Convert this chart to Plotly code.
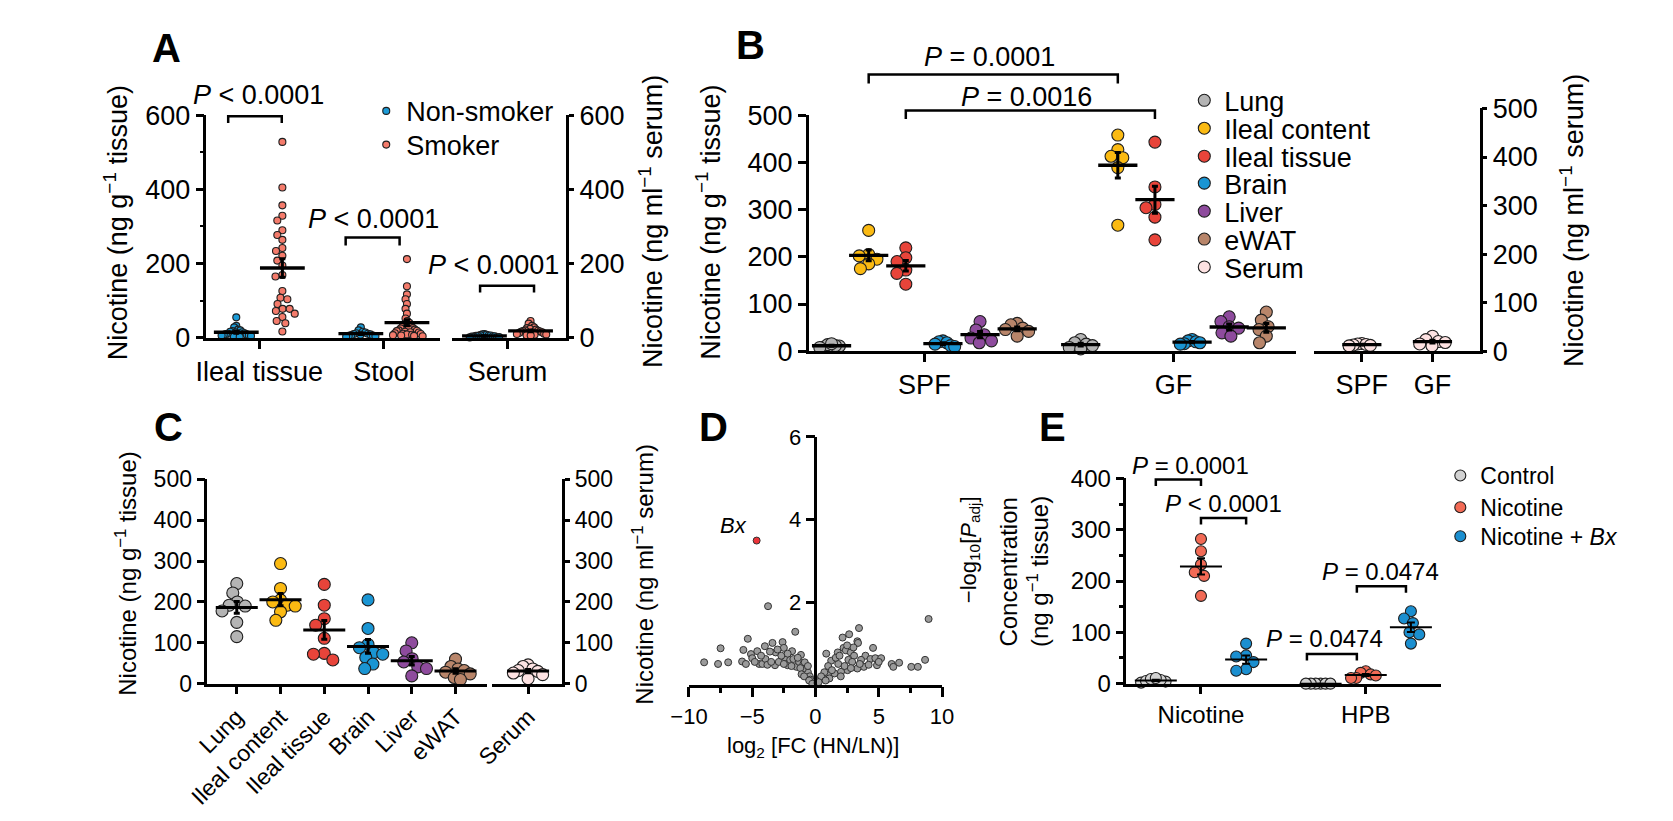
import numpy as np
import plotly.graph_objects as go

W, H = 1673, 821
FONT = "Liberation Sans, Arial, Helvetica, sans-serif"

# ===================== DATA =====================
# Panel A  (human samples, nicotine)
a_tissue_cats = ["Ileal tissue", "Stool"]
a_serum_cats = ["Serum"]
a_groups = ["Non-smoker", "Smoker"]
a_ileal_non = [55, 32, 28, 22, 20, 18, 16, 15, 14, 12, 11, 10, 9, 8, 7, 6, 5, 4, 3, 2]
a_ileal_smk = [528, 405, 357, 329, 316, 290, 277, 264, 242, 234, 221, 208, 195, 169, 165,
               126, 108, 104, 91, 78, 78, 72, 65, 56, 45, 39, 17]
a_stool_non = [28, 20, 16, 14, 12, 11, 10, 9, 8, 7, 6, 5, 4, 3]
a_stool_smk = [212, 139, 117, 104, 91, 78, 65, 52, 45, 40, 36, 33, 30, 28, 26, 25, 23, 22,
               20, 19, 18, 16, 15, 14, 12, 11, 10, 9, 8, 7, 6, 5, 4]
a_serum_non = [10, 9, 8, 7, 6, 6, 5, 5, 4, 4, 3, 3, 2, 2, 1]
a_serum_smk = [45, 38, 32, 28, 26, 24, 22, 20, 19, 18, 17, 16, 15, 14, 13, 12, 11, 10, 9, 8, 7, 6]
a_pvals = ["<i>P</i> &lt; 0.0001", "<i>P</i> &lt; 0.0001", "<i>P</i> &lt; 0.0001"]

# Panel B  (SPF vs GF mice)
b_tissues = ["Lung", "Ileal content", "Ileal tissue", "Brain", "Liver", "eWAT"]
b_conditions = ["SPF", "GF"]
b_lung_spf = [9, 11, 12, 14, 16, 8]
b_lung_gf = [25, 18, 15, 12, 8, 5]
b_icontent_spf = [256, 205, 202, 195, 185, 175]
b_icontent_gf = [458, 427, 413, 410, 389, 267]
b_itissue_spf = [219, 198, 190, 172, 165, 142]
b_itissue_gf = [443, 348, 311, 304, 284, 236]
b_brain_spf = [22, 20, 18, 15, 12, 10]
b_brain_gf = [25, 22, 20, 18, 16, 15]
b_liver_spf = [63, 45, 35, 28, 22, 18]
b_liver_gf = [73, 63, 52, 49, 39, 32]
b_ewat_spf = [59, 56, 49, 46, 42, 32]
b_ewat_gf = [83, 66, 52, 46, 32, 18]
b_serum_spf = [16, 15, 14, 13, 12, 11]
b_serum_gf = [31, 24, 20, 18, 15, 11]
b_pvals = ["<i>P</i> = 0.0001", "<i>P</i> = 0.0016"]

# Panel C
c_tissues = ["Lung", "Ileal content", "Ileal tissue", "Brain", "Liver", "eWAT"]
c_lung = [245, 222, 200, 192, 190, 178, 150, 115]
c_icontent = [294, 233, 205, 200, 192, 190, 176, 155]
c_itissue = [243, 192, 159, 143, 111, 74, 72, 58]
c_brain = [205, 135, 96, 88, 76, 72, 64, 48, 37]
c_liver = [100, 80, 61, 53, 41, 37, 19]
c_ewat = [60, 42, 36, 32, 28, 24, 15, 10]
c_serum = [46, 42, 36, 32, 30, 26, 22, 12]

# Panel D  (volcano)
d_log2fc = [-8.8, -7.7, -7.5, -6.9, -5.8, -5.7, -5.5, -5.35, -5.1, -5.0, -4.6, -4.45, -4.2, -4.0,
            -3.95, -3.8, -3.75, -3.4, -3.15, -3.2, -2.9, -2.6, -2.5, -2.4, -2.2, -2.0, -1.85,
            -1.75, -1.6, -1.5, -1.3, -1.15, -0.95, -0.85, -0.8, -0.7, -0.6, -0.55, -0.45, -0.3,
            -0.2, -0.15, -0.4, -1.0, -1.2, -3.5, -2.7, -4.3, -3.0, -2.2, -1.9, -0.6, -1.4, -3.6,
            -4.8, -2.5, -1.1, -0.9, -0.5, -0.25,
            8.94, 3.44, 2.66, 2.14, 3.31, 3.36, 4.55, 2.22, 2.40, 1.76, 0.85, 1.24, 2.79, 3.05,
            3.95, 4.34, 4.73, 5.19, 4.86, 6.02, 6.15, 6.61, 7.57, 8.09, 8.66, 3.82, 3.31, 2.53,
            2.02, 1.50, 0.98, 0.59, 0.34, 0.16, 1.8, 2.6, 1.0, 1.6, 2.9, 3.6, 2.3, 1.3, 0.7,
            0.45, 1.9, 3.0, 2.5, 4.2, 5.0, 1.1, 0.8, 0.25, 2.0, 2.8, 3.5]
d_neglogp = [0.54, 0.50, 0.88, 0.54, 0.56, 0.84, 0.50, 1.11, 0.74, 0.64, 0.81, 0.50, 0.50, 0.93,
             0.62, 0.48, 1.90, 1.01, 0.78, 0.47, 0.55, 1.03, 0.89, 0.66, 0.47, 0.60, 0.81,
             0.62, 1.28, 0.43, 0.55, 0.72, 0.50, 0.54, 0.35, 0.23, 0.30, 0.16, 0.20, 0.08,
             0.04, 0.10, 0.12, 0.38, 0.40, 0.55, 0.70, 0.70, 0.85, 0.75, 0.45, 0.45, 0.65, 0.80,
             0.55, 0.50, 0.25, 0.20, 0.10, 0.02,
             1.59, 1.37, 1.22, 1.14, 1.05, 1.01, 0.89, 0.89, 0.83, 0.78, 0.75, 0.58, 0.78, 0.70,
             0.70, 0.62, 0.64, 0.64, 0.47, 0.50, 0.43, 0.53, 0.43, 0.43, 0.60, 0.43, 0.39, 0.35,
             0.31, 0.27, 0.23, 0.16, 0.12, 0.04, 0.50, 0.60, 0.45, 0.65, 0.55, 0.60, 0.45, 0.35, 0.30,
             0.20, 0.70, 0.90, 0.95, 0.48, 0.55, 0.15, 0.10, 0.06, 0.20, 0.40, 0.50]
d_bx_log2fc = [-4.65]
d_bx_neglogp = [3.49]

# Panel E
e_cats = ["Nicotine", "HPB"]
e_groups = ["Control", "Nicotine", "Nicotine + <i>Bx</i>"]
e_ctrl_nic = [2, 4, 5, 7, 9, 11]
e_nic_nic = [282, 258, 232, 217, 210, 171]
e_bx_nic = [78, 55, 53, 42, 28, 25]
e_ctrl_hpb = [0, 0, 0, 0, 0, 0]
e_nic_hpb = [24, 21, 18, 16, 11, 11]
e_bx_hpb = [141, 127, 118, 100, 96, 78]
e_pvals = ["<i>P</i> = 0.0001", "<i>P</i> &lt; 0.0001", "<i>P</i> = 0.0474", "<i>P</i> = 0.0474"]

# ===================== STYLE / GEOMETRY =====================
A_COL = {"Non-smoker": "#1c9bd7", "Smoker": "#f47b6b"}
T_COL = {"Lung": "#b4b4b4", "Ileal content": "#fbba12", "Ileal tissue": "#e8443a",
         "Brain": "#1a95d3", "Liver": "#8e4b9d", "eWAT": "#b8856a", "Serum": "#fde2e2"}
E_COL = ["#d2d2d2", "#f26a55", "#1b8fd0"]

FS_AB = 27   # text size in panels A and B
FS_C = 23
FS_D = 22
FS_E = 24

# x geometry: (px left, px right, px of category 0, px per category unit)
A_XL = (190, 428, 244, 127)
A_XR = (440, 557, 497, 127)
A_Y = (335, 104, 600)          # (px bottom, px top, value at top)
A_OFF = 0.185
B_XL = (804, 1301, 922, 254)
B_XR = (1319, 1488, 1368, 72)
B_YL = (349, 104, 500)
B_YR = (349, 97, 500)
B_OFF = 0.149
C_XL = (191, 476, 221, 44.6)
C_XR = (481, 553, 518, 44.6)
C_Y = (694, 482, 500)
D_X = (682, 940)
D_Y = (695, 438)
D_YPOS = 811
E_X = (1128, 1449, 1204, 168)
E_Y = (694, 481, 400)
E_OFF = 0.274


def xdomain(g):
    return [g[0] / W, g[1] / W]


def ydomain(g):
    return [1 - g[0] / H, 1 - g[1] / H]


def xrange_of(g):
    return [(g[0] - g[2]) / g[3], (g[1] - g[2]) / g[3]]


def xpaper(g, v):
    return (g[2] + v * g[3]) / W


def ypaper(g, v):
    return 1 - (g[0] - v / g[2] * (g[0] - g[1])) / H


def swarm(values, center, xunit, yunit, diam, maxhalf):
    vals = np.asarray(values, float)
    order = np.argsort(-vals, kind="stable")
    placed = []
    offs = np.zeros(len(vals))
    for i in order:
        y = vals[i] * yunit
        cands = [0.0]
        for ox, oy in placed:
            dy = y - oy
            if abs(dy) < diam:
                dx = np.sqrt(diam ** 2 - dy ** 2)
                cands += [ox + dx, ox - dx]
        cands.sort(key=lambda c: (round(abs(c), 6), c))
        chosen = cands[-1]
        for c in cands:
            if all((c - ox) ** 2 + (y - oy) ** 2 >= diam ** 2 - 1e-6 for ox, oy in placed):
                chosen = c
                break
        placed.append((chosen, y))
        offs[i] = chosen
    span = np.abs(offs).max() if len(offs) else 0
    if span > maxhalf:
        offs = offs * (maxhalf / span)
    return center + offs / xunit


fig = go.Figure()
mean_traces = []


def points(vals, center, xg, yg, xa, ya, color, size, fac, maxhalf, name=None, legend=None):
    xs = swarm(vals, center, xg[3], (yg[0] - yg[1]) / yg[2], (size + 1) * fac, maxhalf)
    fig.add_trace(go.Scatter(
        x=xs, y=vals, mode="markers", xaxis=xa, yaxis=ya, cliponaxis=False,
        marker=dict(size=size, color=color, line=dict(width=1.1, color="#1e1e1e")),
        name=name if name else "", showlegend=name is not None,
        legend=legend if legend else "legend", hoverinfo="y"))


def mean_sem(vals, center, xa, ya, length, lw, et, ew):
    v = np.asarray(vals, float)
    m = v.mean()
    s = v.std(ddof=1) / np.sqrt(len(v))
    mean_traces.append(go.Scatter(
        x=[center], y=[m], mode="markers", xaxis=xa, yaxis=ya, cliponaxis=False,
        marker=dict(symbol="line-ew", size=length, color="black",
                    line=dict(width=lw, color="black")),
        error_y=dict(type="data", array=[s], symmetric=True, thickness=et, width=ew,
                     color="black"),
        showlegend=False, hoverinfo="skip"))


# ---------- Panel A ----------
a_left = [(a_ileal_non, a_ileal_smk), (a_stool_non, a_stool_smk)]
for ci, (non, smk) in enumerate(a_left):
    points(non, ci - A_OFF, A_XL, A_Y, "x", "y", A_COL["Non-smoker"], 7, 0.9, 15,
           name="Non-smoker" if ci == 0 else None, legend="legend")
    points(smk, ci + A_OFF, A_XL, A_Y, "x", "y", A_COL["Smoker"], 7, 0.9, 16,
           name="Smoker" if ci == 0 else None, legend="legend2")
    mean_sem(non, ci - A_OFF, "x", "y", 32, 3.3, 3, 3)
    mean_sem(smk, ci + A_OFF, "x", "y", 32, 3.3, 3, 3)
points(a_serum_non, -A_OFF, A_XR, A_Y, "x2", "y2", A_COL["Non-smoker"], 7, 0.9, 15)
points(a_serum_smk, A_OFF, A_XR, A_Y, "x2", "y2", A_COL["Smoker"], 7, 0.9, 16)
mean_sem(a_serum_non, -A_OFF, "x2", "y2", 32, 3.3, 3, 3)
mean_sem(a_serum_smk, A_OFF, "x2", "y2", 32, 3.3, 3, 3)

# ---------- Panel B ----------
b_spf = [b_lung_spf, b_icontent_spf, b_itissue_spf, b_brain_spf, b_liver_spf, b_ewat_spf]
b_gf = [b_lung_gf, b_icontent_gf, b_itissue_gf, b_brain_gf, b_liver_gf, b_ewat_gf]
for ti, tname in enumerate(b_tissues):
    off = (ti - 2.5) * B_OFF
    points(b_spf[ti], 0 + off, B_XL, B_YL, "x3", "y3", T_COL[tname], 12, 0.75, 12,
           name=tname, legend="legend%d" % (3 + ti))
    points(b_gf[ti], 1 + off, B_XL, B_YL, "x3", "y3", T_COL[tname], 12, 0.75, 12)
    mean_sem(b_spf[ti], 0 + off, "x3", "y3", 28, 3.3, 3, 3)
    mean_sem(b_gf[ti], 1 + off, "x3", "y3", 28, 3.3, 3, 3)
points(b_serum_spf, 0, B_XR, B_YR, "x4", "y4", T_COL["Serum"], 12, 0.75, 13,
       name="Serum", legend="legend9")
points(b_serum_gf, 1, B_XR, B_YR, "x4", "y4", T_COL["Serum"], 12, 0.75, 13)
mean_sem(b_serum_spf, 0, "x4", "y4", 28, 3.3, 3, 3)
mean_sem(b_serum_gf, 1, "x4", "y4", 28, 3.3, 3, 3)

# ---------- Panel C ----------
c_vals = [c_lung, c_icontent, c_itissue, c_brain, c_liver, c_ewat]
for ti, tname in enumerate(c_tissues):
    points(c_vals[ti], ti, C_XL, C_Y, "x5", "y5", T_COL[tname], 12, 0.85, 15)
    mean_sem(c_vals[ti], ti, "x5", "y5", 30, 3, 3, 3)
points(c_serum, 0, C_XR, C_Y, "x6", "y6", T_COL["Serum"], 12, 0.85, 15)
mean_sem(c_serum, 0, "x6", "y6", 30, 3, 3, 3)

# ---------- Panel D ----------
fig.add_trace(go.Scatter(x=d_log2fc, y=d_neglogp, mode="markers", xaxis="x7", yaxis="y7",
                         cliponaxis=False, showlegend=False,
                         marker=dict(size=7, color="#9b9b9b", line=dict(width=1, color="#333333"))))
fig.add_trace(go.Scatter(x=d_bx_log2fc, y=d_bx_neglogp, mode="markers", xaxis="x7", yaxis="y7",
                         cliponaxis=False, showlegend=False,
                         marker=dict(size=7, color="#ec3338", line=dict(width=1, color="#333333"))))

# ---------- Panel E ----------
e_sets = [(e_ctrl_nic, e_nic_nic, e_bx_nic), (e_ctrl_hpb, e_nic_hpb, e_bx_hpb)]
for ci, trio in enumerate(e_sets):
    for gi, vals in enumerate(trio):
        pos = ci + (gi - 1) * E_OFF
        points(vals, pos, E_X, E_Y, "x8", "y8", E_COL[gi], 11, 0.85, 15,
               name=e_groups[gi] if ci == 0 else None, legend="legend%d" % (10 + gi))
        mean_sem(vals, pos, "x8", "y8", 30, 2, 2, 4)

for tr in mean_traces:
    fig.add_trace(tr)


# ===================== AXES =====================
def AX(size):
    return dict(showline=True, linewidth=2.5, linecolor="black", ticks="outside", ticklen=8,
                tickwidth=2.5, tickcolor="black", showgrid=False, zeroline=False,
                fixedrange=True, tickfont=dict(size=size, family=FONT, color="black"))


def xcat(g, anchor, size, labels, **kw):
    d = dict(domain=xdomain(g), range=xrange_of(g), anchor=anchor, tickmode="array",
             tickvals=list(range(len(labels))), ticktext=labels, **AX(size))
    d.update(kw)
    return d


def ylin(g, anchor, size, dtick, side, **kw):
    d = dict(domain=ydomain(g), range=[0, g[2]], anchor=anchor, side=side, tickmode="linear",
             tick0=0, dtick=dtick, **AX(size))
    d.update(kw)
    return d


layout = dict(
    width=W, height=H, margin=dict(l=0, r=0, t=0, b=0), autosize=False,
    paper_bgcolor="white", plot_bgcolor="rgba(0,0,0,0)",
    font=dict(family=FONT, color="black", size=24),
    hovermode="closest",
    # A
    xaxis=xcat(A_XL, "y", FS_AB, a_tissue_cats),
    yaxis=ylin(A_Y, "x", FS_AB, 200, "left",
               minor=dict(dtick=100, ticks="outside", ticklen=4, tickwidth=2, tickcolor="black")),
    xaxis2=xcat(A_XR, "y2", FS_AB, a_serum_cats),
    yaxis2=ylin(A_Y, "x2", FS_AB, 200, "right", ticklen=5),
    # B
    xaxis3=xcat(B_XL, "y3", FS_AB, b_conditions),
    yaxis3=ylin(B_YL, "x3", FS_AB, 100, "left"),
    xaxis4=xcat(B_XR, "y4", FS_AB, b_conditions),
    yaxis4=ylin(B_YR, "x4", FS_AB, 100, "right", ticklen=5),
    # C
    xaxis5=xcat(C_XL, "y5", FS_C, c_tissues, tickangle=-45),
    yaxis5=ylin(C_Y, "x5", FS_C, 100, "left"),
    xaxis6=xcat(C_XR, "y6", FS_C, ["Serum"], tickangle=-45),
    yaxis6=ylin(C_Y, "x6", FS_C, 100, "right", ticklen=5),
    # D
    xaxis7=dict(domain=xdomain(D_X), range=[-10, 10], anchor="y7", tickmode="array",
                tickvals=[-10, -5, 0, 5, 10], ticklen=10,
                minor=dict(dtick=2.5, tick0=0, ticks="outside", ticklen=6, tickwidth=2.5,
                           tickcolor="black"),
                **{k: v for k, v in AX(FS_D).items() if k != "ticklen"}),
    yaxis7=dict(domain=ydomain(D_Y), range=[0, 6], anchor="free", position=D_YPOS / W,
                tickmode="array", tickvals=[2, 4, 6], ticklen=9,
                **{k: v for k, v in AX(FS_D).items() if k != "ticklen"}),
    # E
    xaxis8=xcat(E_X, "y8", FS_E, e_cats),
    yaxis8=ylin(E_Y, "x8", FS_E, 100, "left",
                minor=dict(dtick=50, ticks="outside", ticklen=5, tickwidth=2.5, tickcolor="black")),
)


def leg(xpx, ypx, size):
    return dict(x=(xpx - 20) / W, y=1 - ypx / H, xanchor="left", yanchor="middle",
                bgcolor="rgba(0,0,0,0)", borderwidth=0, itemclick=False, itemdoubleclick=False,
                font=dict(size=size, family=FONT, color="black"))


layout["legend"] = leg(373, 100, FS_AB)
layout["legend2"] = leg(373, 135, FS_AB)
for i, ypx in enumerate([89, 118, 147, 175, 204, 233, 262]):
    layout["legend%d" % (3 + i)] = leg(1207, ypx, FS_AB)
for i, ypx in enumerate([478, 511, 541]):
    layout["legend%d" % (10 + i)] = leg(1468, ypx, 23)

fig.update_layout(**layout)

# ===================== ANNOTATIONS =====================
shapes = []
annots = []


def text_at(xpx, ypx, text, size, angle=0, xanchor="center", weight="normal", style="normal"):
    annots.append(dict(xref="paper", yref="paper", x=xpx / W, y=1 - ypx / H,
                       text=text, textangle=angle,
                       showarrow=False, xanchor=xanchor, yanchor="middle",
                       font=dict(size=size, family=FONT, color="black", weight=weight,
                                 style=style)))


def bracket(xg, yg, x0, x1, y, drop, text, tx, ty, tsize):
    p0, p1 = xpaper(xg, x0), xpaper(xg, x1)
    py, pd = ypaper(yg, y), ypaper(yg, y - drop)
    shapes.append(dict(type="path", xref="paper", yref="paper",
                       path="M%f,%f L%f,%f L%f,%f L%f,%f" % (p0, pd, p0, py, p1, py, p1, pd),
                       line=dict(color="black", width=2.5)))
    annots.append(dict(xref="paper", yref="paper", x=xpaper(xg, tx), y=ypaper(yg, ty),
                       text=text, showarrow=False, xanchor="center", yanchor="middle",
                       font=dict(size=tsize, family=FONT, color="black")))


# A
bracket(A_XL, A_Y, -0.25, 0.18, 597, 18, a_pvals[0], -0.01, 655, FS_AB)
bracket(A_XL, A_Y, 0.693, 1.126, 270, 21, a_pvals[1], 0.913, 319, FS_AB)
bracket(A_XR, A_Y, -0.22, 0.213, 140, 18, a_pvals[2], -0.11, 197, FS_AB)
# B
bracket(B_XL, B_YL, -1.5 * B_OFF, 1 - 1.5 * B_OFF, 586, 19, b_pvals[0], 0.26, 624, FS_AB)
bracket(B_XL, B_YL, -0.5 * B_OFF, 1 - 0.5 * B_OFF, 510, 18, b_pvals[1], 0.41, 539, FS_AB)
# E
bracket(E_X, E_Y, -E_OFF, 0, 398, 13, e_pvals[0], -0.065, 426, FS_E)
bracket(E_X, E_Y, 0, E_OFF, 323, 13, e_pvals[1], 0.137, 351, FS_E)
bracket(E_X, E_Y, 0.946, 1.244, 190, 13, e_pvals[2], 1.089, 218, FS_E)
bracket(E_X, E_Y, 0.643, 0.946, 58, 13, e_pvals[3], 0.75, 88, FS_E)

# panel letters
for letter, xpx, ypx in [("A", 133, 34), ("B", 728, 31), ("C", 135, 428), ("D", 690, 428),
                         ("E", 1037, 428)]:
    text_at(xpx, ypx, letter, 40, xanchor="left", weight="bold")

# axis titles
TISSUE_T = "Nicotine (ng g<sup>−1</sup> tissue)"
SERUM_T = "Nicotine (ng ml<sup>−1</sup> serum)"
text_at(98, 216, TISSUE_T, FS_AB, angle=-90)
text_at(643, 214, SERUM_T, FS_AB, angle=-90)
text_at(702, 215, TISSUE_T, FS_AB, angle=-90)
text_at(1582, 213, SERUM_T, FS_AB, angle=-90)
text_at(108, 579, TISSUE_T, 24, angle=-90)
text_at(635, 580, SERUM_T, 24, angle=-90)
text_at(1008, 578, "Concentration", FS_E, angle=-90)
text_at(1038, 578, "(ng g<sup>−1</sup> tissue)", FS_E, angle=-90)
text_at(808, 760, "log<sub>2</sub> [FC (HN/LN)]", FS_D)
text_at(968, 555, "−log<sub>10</sub>[<i>P</i><sub>adj</sub>]", FS_D, angle=-90)

# D: Bx label
annots.append(dict(xref="x7", yref="y7", x=d_bx_log2fc[0], y=d_bx_neglogp[0],
                   text="Bx", showarrow=False, xanchor="right", yanchor="middle",
                   xshift=-8, yshift=15,
                   font=dict(size=FS_D, family=FONT, color="black", style="italic")))

fig.update_layout(shapes=shapes, annotations=annots)

fig.write_html("out.html", config={"displayModeBar": False},
               post_script="document.body.style.margin='0';")
